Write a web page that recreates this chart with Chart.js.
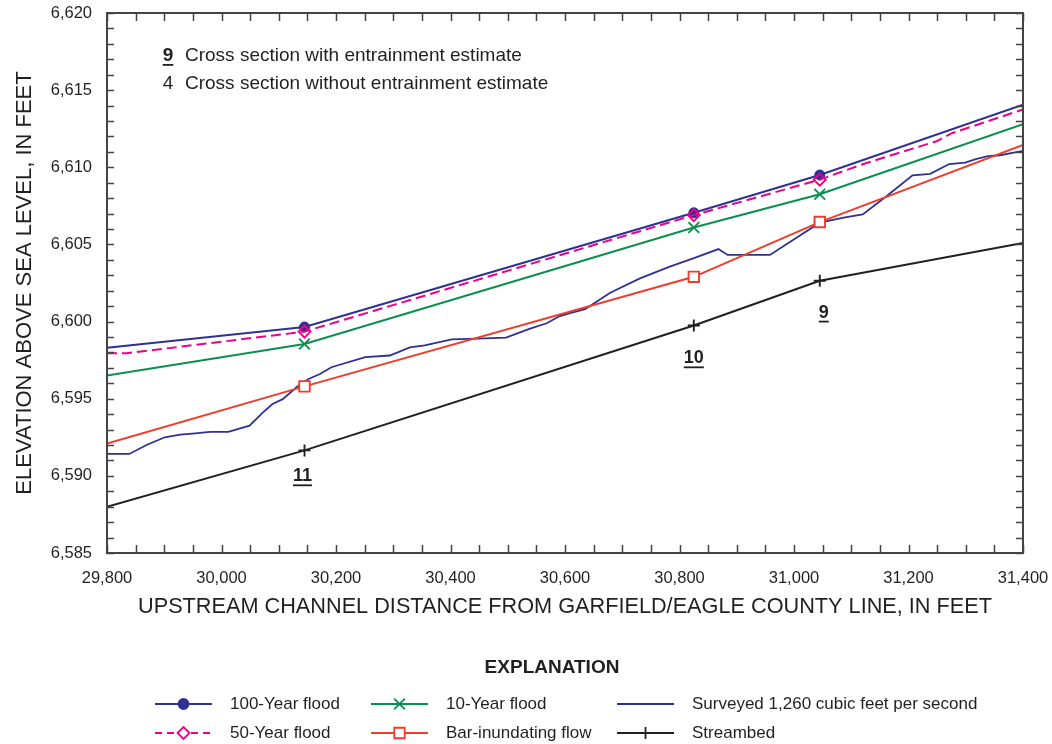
<!DOCTYPE html>
<html>
<head>
<meta charset="utf-8">
<script src="https://cdn.jsdelivr.net/npm/chart.js@4/dist/chart.umd.min.js"></script>
<style>
  html, body { margin: 0; padding: 0; background: #ffffff; }
  #wrap { width: 1052px; height: 744px; position: relative; }
</style>
</head>
<body>
<div id="wrap"><canvas id="profile" width="1052" height="744"></canvas></div>
<script>
// Cross sections (upstream channel distance, ft) and their labels
const SECTION_DIST = [30145, 30825, 31045];
const SECTION_LABELS = ['11', '10', '9'];

// Water-surface profiles: distance (ft) and elevation (ft above sea level)
const DIST_100YR = [29800, 30145, 30825, 31045, 31400];
const ELEV_100YR = [6598.3, 6599.65, 6607.05, 6609.5, 6614.05];

const DIST_50YR = [29800, 29835, 30145, 30825, 31045, 31120, 31250, 31275, 31400];
const ELEV_50YR = [6597.95, 6597.95, 6599.35, 6606.9, 6609.2, 6610.2, 6611.7, 6612.2, 6613.75];

const DIST_10YR = [29800, 30145, 30825, 31045, 31400];
const ELEV_10YR = [6596.5, 6598.55, 6606.1, 6608.25, 6612.8];

const DIST_BAR = [29800, 30145, 30825, 31045, 31400];
const ELEV_BAR = [6592.1, 6595.8, 6602.9, 6606.45, 6611.45];

const DIST_SURVEYED = [29800, 29839, 29869, 29901, 29928, 29954, 29980, 30012, 30049, 30072,
  30089, 30107, 30131, 30152, 30172, 30192, 30251, 30294, 30329, 30355, 30402, 30446, 30497,
  30539, 30568, 30591, 30609, 30635, 30679, 30731, 30783, 30824, 30868, 30884, 30958, 31045,
  31089, 31120, 31162, 31207, 31238, 31271, 31299, 31319, 31339, 31360, 31400];
const ELEV_SURVEYED = [6591.42, 6591.42, 6592.0, 6592.5, 6592.67, 6592.76, 6592.85, 6592.85, 6593.25, 6594.1,
  6594.66, 6594.97, 6595.74, 6596.28, 6596.6, 6597.04, 6597.7, 6597.8, 6598.33, 6598.46, 6598.85, 6598.89, 6598.96,
  6599.54, 6599.89, 6600.36, 6600.54, 6600.8, 6601.87, 6602.8, 6603.56, 6604.1, 6604.7, 6604.32, 6604.32, 6606.41,
  6606.76, 6606.95, 6608.14, 6609.48, 6609.57, 6610.21, 6610.3, 6610.54, 6610.73, 6610.78, 6611.06];

const DIST_STREAMBED = [29800, 30145, 30825, 31045, 31400];
const ELEV_STREAMBED = [6588.0, 6591.65, 6599.75, 6602.65, 6605.1];

// Axis ranges and labels
const X_MIN = 29800, X_MAX = 31400, X_MINOR = 50, X_MAJOR = 200;
const Y_MIN = 6585, Y_MAX = 6620, Y_MINOR = 1, Y_MAJOR = 5;
const X_TITLE = 'UPSTREAM CHANNEL DISTANCE FROM GARFIELD/EAGLE COUNTY LINE, IN FEET';
const Y_TITLE = 'ELEVATION ABOVE SEA LEVEL, IN FEET';

const FONT = '"Liberation Sans", Arial, Helvetica, sans-serif';
const TEXT = '#231f20';
const AXIS = '#444444';
const BLUE = '#2e3192';
const MAGENTA = '#ec008c';
const GREEN = '#0b8f4f';
const RED = '#ee3d2b';
const BLACK = '#231f20';

const pairs = (xs, ys) => xs.map((x, i) => ({ x: x, y: ys[i] }));
const atSection = (r) => (ctx) => (ctx.raw && SECTION_DIST.includes(ctx.raw.x)) ? r : 0;

const MARKER_SIZE = { circle: 5, rectRot: 6, rect: 7.4, crossRot: 7.6, cross: 6 };

const series = {
  f100: { label: '100-Year flood', data: pairs(DIST_100YR, ELEV_100YR), borderColor: BLUE, backgroundColor: BLUE,
          pointStyle: 'circle', pointRadius: atSection(MARKER_SIZE.circle), pointBackgroundColor: BLUE, pointBorderColor: BLUE,
          pointBorderWidth: 1, borderWidth: 2, order: 2 },
  f50:  { label: '50-Year flood', data: pairs(DIST_50YR, ELEV_50YR), borderColor: MAGENTA, backgroundColor: MAGENTA,
          borderDash: [10, 5], pointStyle: 'rectRot', pointRadius: atSection(MARKER_SIZE.rectRot), pointBackgroundColor: 'rgba(0,0,0,0)',
          pointBorderColor: MAGENTA, pointBorderWidth: 1.9, borderWidth: 2, order: 1 },
  f10:  { label: '10-Year flood', data: pairs(DIST_10YR, ELEV_10YR), borderColor: GREEN, backgroundColor: GREEN,
          pointStyle: 'crossRot', pointRadius: atSection(MARKER_SIZE.crossRot), pointBorderColor: GREEN, pointBorderWidth: 1.9,
          borderWidth: 2, order: 3 },
  bar:  { label: 'Bar-inundating flow', data: pairs(DIST_BAR, ELEV_BAR), borderColor: RED, backgroundColor: RED,
          pointStyle: 'rect', pointRadius: atSection(MARKER_SIZE.rect), pointBackgroundColor: '#ffffff', pointBorderColor: RED,
          pointBorderWidth: 1.9, borderWidth: 2, order: 4 },
  surv: { label: 'Surveyed 1,260 cubic feet per second', data: pairs(DIST_SURVEYED, ELEV_SURVEYED),
          borderColor: BLUE, backgroundColor: BLUE, pointRadius: 0, borderWidth: 1.8, order: 5 },
  bed:  { label: 'Streambed', data: pairs(DIST_STREAMBED, ELEV_STREAMBED), borderColor: BLACK, backgroundColor: BLACK,
          pointStyle: 'cross', pointRadius: atSection(MARKER_SIZE.cross), pointBorderColor: BLACK, pointBorderWidth: 1.9,
          borderWidth: 2, order: 6 }
};

// Legend grid: three columns of two entries each
const LEGEND_COLUMNS = [['f100', 'f50'], ['f10', 'bar'], ['surv', 'bed']];

function drawMarker(ctx, style, x, y, r, stroke, fill, lw) {
  ctx.save();
  ctx.strokeStyle = stroke; ctx.fillStyle = fill; ctx.lineWidth = lw; ctx.setLineDash([]);
  ctx.beginPath();
  if (style === 'circle') {
    ctx.arc(x, y, r, 0, Math.PI * 2); ctx.fill(); ctx.stroke();
  } else if (style === 'rectRot') {
    ctx.moveTo(x, y - r); ctx.lineTo(x + r, y); ctx.lineTo(x, y + r); ctx.lineTo(x - r, y); ctx.closePath();
    ctx.fill(); ctx.stroke();
  } else if (style === 'rect') {
    const s = r * Math.SQRT1_2; ctx.rect(x - s, y - s, 2 * s, 2 * s); ctx.fill(); ctx.stroke();
  } else if (style === 'crossRot') {
    const s = r * Math.SQRT1_2;
    ctx.moveTo(x - s, y - s); ctx.lineTo(x + s, y + s); ctx.moveTo(x - s, y + s); ctx.lineTo(x + s, y - s); ctx.stroke();
  } else if (style === 'cross') {
    ctx.moveTo(x - r, y); ctx.lineTo(x + r, y); ctx.moveTo(x, y - r); ctx.lineTo(x, y + r); ctx.stroke();
  }
  ctx.restore();
}

function underlinedText(ctx, text, x, y, align) {
  ctx.textAlign = align; ctx.textBaseline = 'middle';
  ctx.fillText(text, x, y);
  const w = ctx.measureText(text).width;
  const x0 = align === 'center' ? x - w / 2 : x;
  ctx.fillRect(x0, y + 8, w, 1.8);
}

const decorations = {
  id: 'decorations',
  afterDraw(chart) {
    const { ctx, chartArea: a, scales: { x, y } } = chart;
    ctx.save();

    // frame with inward ticks on all four sides
    ctx.strokeStyle = AXIS; ctx.lineWidth = 1.5;
    ctx.beginPath();
    x.ticks.forEach(t => {
      const px = Math.round(x.getPixelForValue(t.value)) + 0.5;
      ctx.moveTo(px, a.bottom); ctx.lineTo(px, a.bottom - 8);
      ctx.moveTo(px, a.top); ctx.lineTo(px, a.top + 8);
    });
    y.ticks.forEach(t => {
      const py = Math.round(y.getPixelForValue(t.value)) + 0.5;
      ctx.moveTo(a.left, py); ctx.lineTo(a.left + 7, py);
      ctx.moveTo(a.right, py); ctx.lineTo(a.right - 7, py);
    });
    ctx.stroke();
    ctx.lineWidth = 2;
    ctx.strokeRect(a.left, a.top, a.right - a.left, a.bottom - a.top);

    // cross-section numbers below the streambed
    const offsets = [26, 33, 32];
    const nudges = [-2, 0, 4];
    ctx.fillStyle = TEXT;
    ctx.font = 'bold 18px ' + FONT;
    SECTION_DIST.forEach((d, i) => {
      const k = DIST_STREAMBED.indexOf(d);
      const px = x.getPixelForValue(d) + nudges[i];
      const py = y.getPixelForValue(ELEV_STREAMBED[k]) + offsets[i];
      underlinedText(ctx, SECTION_LABELS[i], px, py, 'center');
    });

    // key to cross-section numbering
    ctx.font = 'bold 19px ' + FONT;
    underlinedText(ctx, '9', 168, 56, 'center');
    ctx.font = '19px ' + FONT;
    ctx.textAlign = 'center';
    ctx.fillText('4', 168, 84);
    ctx.textAlign = 'left';
    ctx.fillText('Cross section with entrainment estimate', 185, 56);
    ctx.fillText('Cross section without entrainment estimate', 185, 84);

    // explanation
    ctx.font = 'bold 19px ' + FONT;
    ctx.textAlign = 'center'; ctx.textBaseline = 'middle';
    ctx.fillText('EXPLANATION', 552, 668);

    const colX = [155, 371, 617];
    const rowY = [704, 733];
    const lineLen = 57;
    ctx.font = '17px ' + FONT;
    LEGEND_COLUMNS.forEach((col, c) => {
      col.forEach((key, r) => {
        const s = series[key];
        const x0 = colX[c], yy = rowY[r];
        ctx.save();
        ctx.strokeStyle = s.borderColor; ctx.lineWidth = 2;
        ctx.setLineDash(s.borderDash ? [7, 5] : []);
        ctx.beginPath(); ctx.moveTo(x0, yy); ctx.lineTo(x0 + lineLen, yy); ctx.stroke();
        ctx.restore();
        if (s.pointStyle) {
          const rad = MARKER_SIZE[s.pointStyle];
          const fill = s.pointStyle === 'circle' ? s.borderColor : '#ffffff';
          drawMarker(ctx, s.pointStyle, x0 + lineLen / 2, yy, rad, s.borderColor, fill, 1.8);
        }
        ctx.fillStyle = TEXT; ctx.textAlign = 'left'; ctx.textBaseline = 'middle';
        ctx.fillText(s.label, x0 + lineLen + 18, yy);
      });
    });
    ctx.restore();
  }
};

const fmt = (v) => Number(v).toLocaleString('en-US');

// Fixed axis box sizes; label overflow is absorbed by the layout padding
const fixX = (s) => { s.height = 70; s.paddingLeft = 0; s.paddingRight = 0; s.paddingTop = 0; s.paddingBottom = 0; };
const fixY = (s) => { s.width = 107; s.paddingLeft = 0; s.paddingRight = 0; s.paddingTop = 0; s.paddingBottom = 0; };

new Chart(document.getElementById('profile'), {
  type: 'line',
  data: { datasets: [series.f50, series.f100, series.f10, series.bar, series.surv, series.bed] },
  options: {
    responsive: false,
    devicePixelRatio: 1,
    animation: false,
    events: [],
    layout: { padding: { left: 0, top: 13, right: 29, bottom: 121 } },
    plugins: { legend: { display: false }, tooltip: { enabled: false } },
    elements: { line: { tension: 0 } },
    scales: {
      x: {
        type: 'linear', min: X_MIN, max: X_MAX,
        grid: { display: false }, border: { display: false },
        ticks: {
          stepSize: X_MINOR, autoSkip: false, maxRotation: 0, padding: 8,
          color: TEXT, font: { family: FONT, size: 16.5 },
          callback: (v) => (v % X_MAJOR === 0 ? fmt(v) : '')
        },
        title: { display: true, text: X_TITLE, color: TEXT, font: { family: FONT, size: 21.7 },
                 padding: { top: 0, bottom: 3 } },
        afterFit: fixX
      },
      y: {
        type: 'linear', min: Y_MIN, max: Y_MAX,
        grid: { display: false }, border: { display: false },
        ticks: {
          stepSize: Y_MINOR, autoSkip: false, padding: 7,
          color: TEXT, font: { family: FONT, size: 16.5 },
          callback: (v) => (v % Y_MAJOR === 0 ? fmt(v) : '')
        },
        title: { display: true, text: Y_TITLE, color: TEXT, font: { family: FONT, size: 22 },
                 padding: { top: 12, bottom: 0 } },
        afterFit: fixY
      }
    }
  },
  plugins: [decorations]
});
</script>
</body>
</html>
